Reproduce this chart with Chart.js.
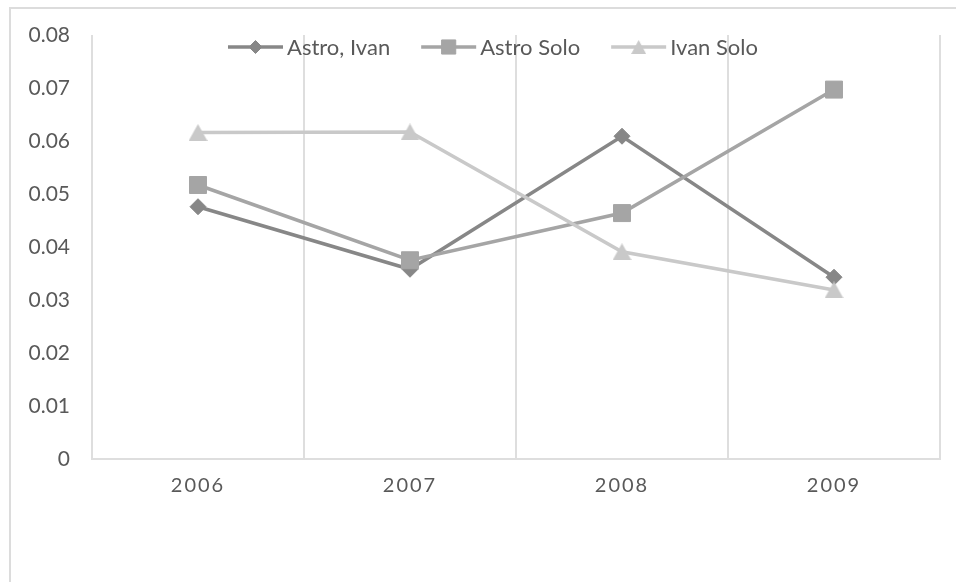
<!DOCTYPE html>
<html>
<head>
<meta charset="utf-8">
<script src="https://cdn.jsdelivr.net/npm/chart.js@4/dist/chart.umd.min.js"></script>
<style>
  html, body { margin: 0; padding: 0; background: #fff; width: 956px; height: 582px; overflow: hidden; }
  #frame { position: absolute; left: 9px; top: 7px; width: 1100px; height: 700px;
           border-top: 2px solid #dcdcdc; border-left: 2px solid #dcdcdc; }
  #wrap { position: absolute; left: 0; top: 0; width: 956px; height: 582px; }
</style>
</head>
<body>
<div id="frame"></div>
<div id="wrap"><canvas id="chart" width="956" height="582"></canvas></div>
<script>
// Categories, series and tick labels
const years = ['2006', '2007', '2008', '2009'];
const seriesNames = ['Astro, Ivan', 'Astro Solo', 'Ivan Solo'];
const astroIvan = [0.0476, 0.0358, 0.0609, 0.0343];
const astroSolo = [0.0517, 0.0375, 0.0464, 0.0697];
const ivanSolo  = [0.0616, 0.0617, 0.0391, 0.0319];
const yTickLabels = ['0', '0.01', '0.02', '0.03', '0.04', '0.05', '0.06', '0.07', '0.08'];

const TEXT = '#595959';
const GRID = '#dedede';
const FONT = 'Lato, "Open Sans", sans-serif';

// Triangle marker centred on its bounding box
function triangleMarker(w, h, color) {
  const c = document.createElement('canvas');
  c.width = w; c.height = h;
  const g = c.getContext('2d');
  g.fillStyle = color;
  g.beginPath();
  g.moveTo(w / 2, 0);
  g.lineTo(w, h);
  g.lineTo(0, h);
  g.closePath();
  g.fill();
  return c;
}

// Category axis whose labels are drawn with extra letter spacing
class SpacedCategoryScale extends Chart.CategoryScale {
  drawLabels(area) {
    const ctx = this.ctx;
    ctx.save();
    ctx.letterSpacing = this.options.ticks.letterSpacing || '0px';
    super.drawLabels(area);
    ctx.restore();
  }
}
SpacedCategoryScale.id = 'spacedCategory';
SpacedCategoryScale.defaults = Chart.CategoryScale.defaults;
Chart.register(SpacedCategoryScale);

// Line-and-marker key drawn inside the top of the plot
const seriesKey = {
  id: 'seriesKey',
  afterDraw(chart, args, opts) {
    const ctx = chart.ctx;
    ctx.save();
    ctx.font = opts.font;
    const items = chart.data.datasets.map(ds => ({
      ds, w: opts.lineLength + opts.textGap + ctx.measureText(ds.label).width
    }));
    const total = items.reduce((s, it) => s + it.w, 0) + opts.itemGap * (items.length - 1);
    let x = opts.centerX - total / 2;
    const y = opts.y;
    items.forEach(({ ds, w }) => {
      ctx.strokeStyle = ds.borderColor;
      ctx.lineWidth = ds.borderWidth;
      ctx.lineCap = 'butt';
      ctx.beginPath();
      ctx.moveTo(x, y);
      ctx.lineTo(x + opts.lineLength, y);
      ctx.stroke();
      ctx.fillStyle = ds.pointBackgroundColor;
      ctx.strokeStyle = ds.pointBorderColor;
      ctx.lineWidth = 1;
      Chart.helpers.drawPoint(ctx, {
        pointStyle: ds.keyPointStyle || ds.pointStyle,
        radius: ds.keyPointRadius,
        borderWidth: 1,
        rotation: 0
      }, x + opts.lineLength / 2, y);
      ctx.fillStyle = opts.color;
      ctx.textAlign = 'left';
      ctx.textBaseline = 'alphabetic';
      ctx.fillText(ds.label, x + opts.lineLength + opts.textGap, y + opts.baselineShift);
      x += w + opts.itemGap;
    });
    ctx.restore();
  }
};

const colors = ['#878787', '#a5a5a5', '#c9c9c9'];

new Chart(document.getElementById('chart'), {
  type: 'line',
  data: {
    labels: years,
    datasets: [
      {
        label: seriesNames[0], data: astroIvan, order: 2,
        borderColor: colors[0], borderWidth: 3.5, tension: 0,
        pointStyle: 'rectRot', pointRadius: 8,
        pointBackgroundColor: colors[0], pointBorderColor: colors[0], pointBorderWidth: 1,
        keyPointRadius: 6.5
      },
      {
        label: seriesNames[1], data: astroSolo, order: 1,
        borderColor: colors[1], borderWidth: 3.5, tension: 0,
        pointStyle: 'rect', pointRadius: 12,
        pointBackgroundColor: colors[1], pointBorderColor: colors[1], pointBorderWidth: 1,
        keyPointRadius: 10
      },
      {
        label: seriesNames[2], data: ivanSolo, order: 0,
        borderColor: colors[2], borderWidth: 3.5, tension: 0,
        pointStyle: triangleMarker(19, 17, colors[2]), pointRadius: 10,
        pointBackgroundColor: colors[2], pointBorderColor: colors[2], pointBorderWidth: 0,
        keyPointStyle: triangleMarker(15, 14, colors[2]), keyPointRadius: 8
      }
    ]
  },
  options: {
    responsive: false,
    animation: false,
    events: [],
    devicePixelRatio: 1,
    layout: { padding: { left: 0, right: 16, top: 35, bottom: 63 } },
    plugins: {
      legend: { display: false },
      tooltip: { enabled: false },
      seriesKey: {
        font: '22px ' + FONT, color: TEXT,
        lineLength: 55, textGap: 4, itemGap: 31,
        centerX: 493, y: 47, baselineShift: 7.5
      }
    },
    scales: {
      x: {
        type: 'spacedCategory',
        offset: true,
        grid: { display: true, offset: true, color: GRID, lineWidth: 2, drawTicks: false },
        border: { display: true, color: GRID, width: 2 },
        ticks: {
          color: TEXT, font: { family: FONT, size: 20 }, padding: 15,
          letterSpacing: '2px', maxRotation: 0
        },
        afterFit(scale) { scale.height = 60; }
      },
      y: {
        min: 0, max: 0.08,
        grid: { display: false, drawTicks: false },
        border: { display: false },
        ticks: {
          stepSize: 0.01, color: TEXT, font: { family: FONT, size: 21 }, padding: 22,
          callback: (v, i) => yTickLabels[i]
        },
        afterFit(scale) { scale.width = 92; }
      }
    }
  },
  plugins: [seriesKey]
});
</script>
</body>
</html>
